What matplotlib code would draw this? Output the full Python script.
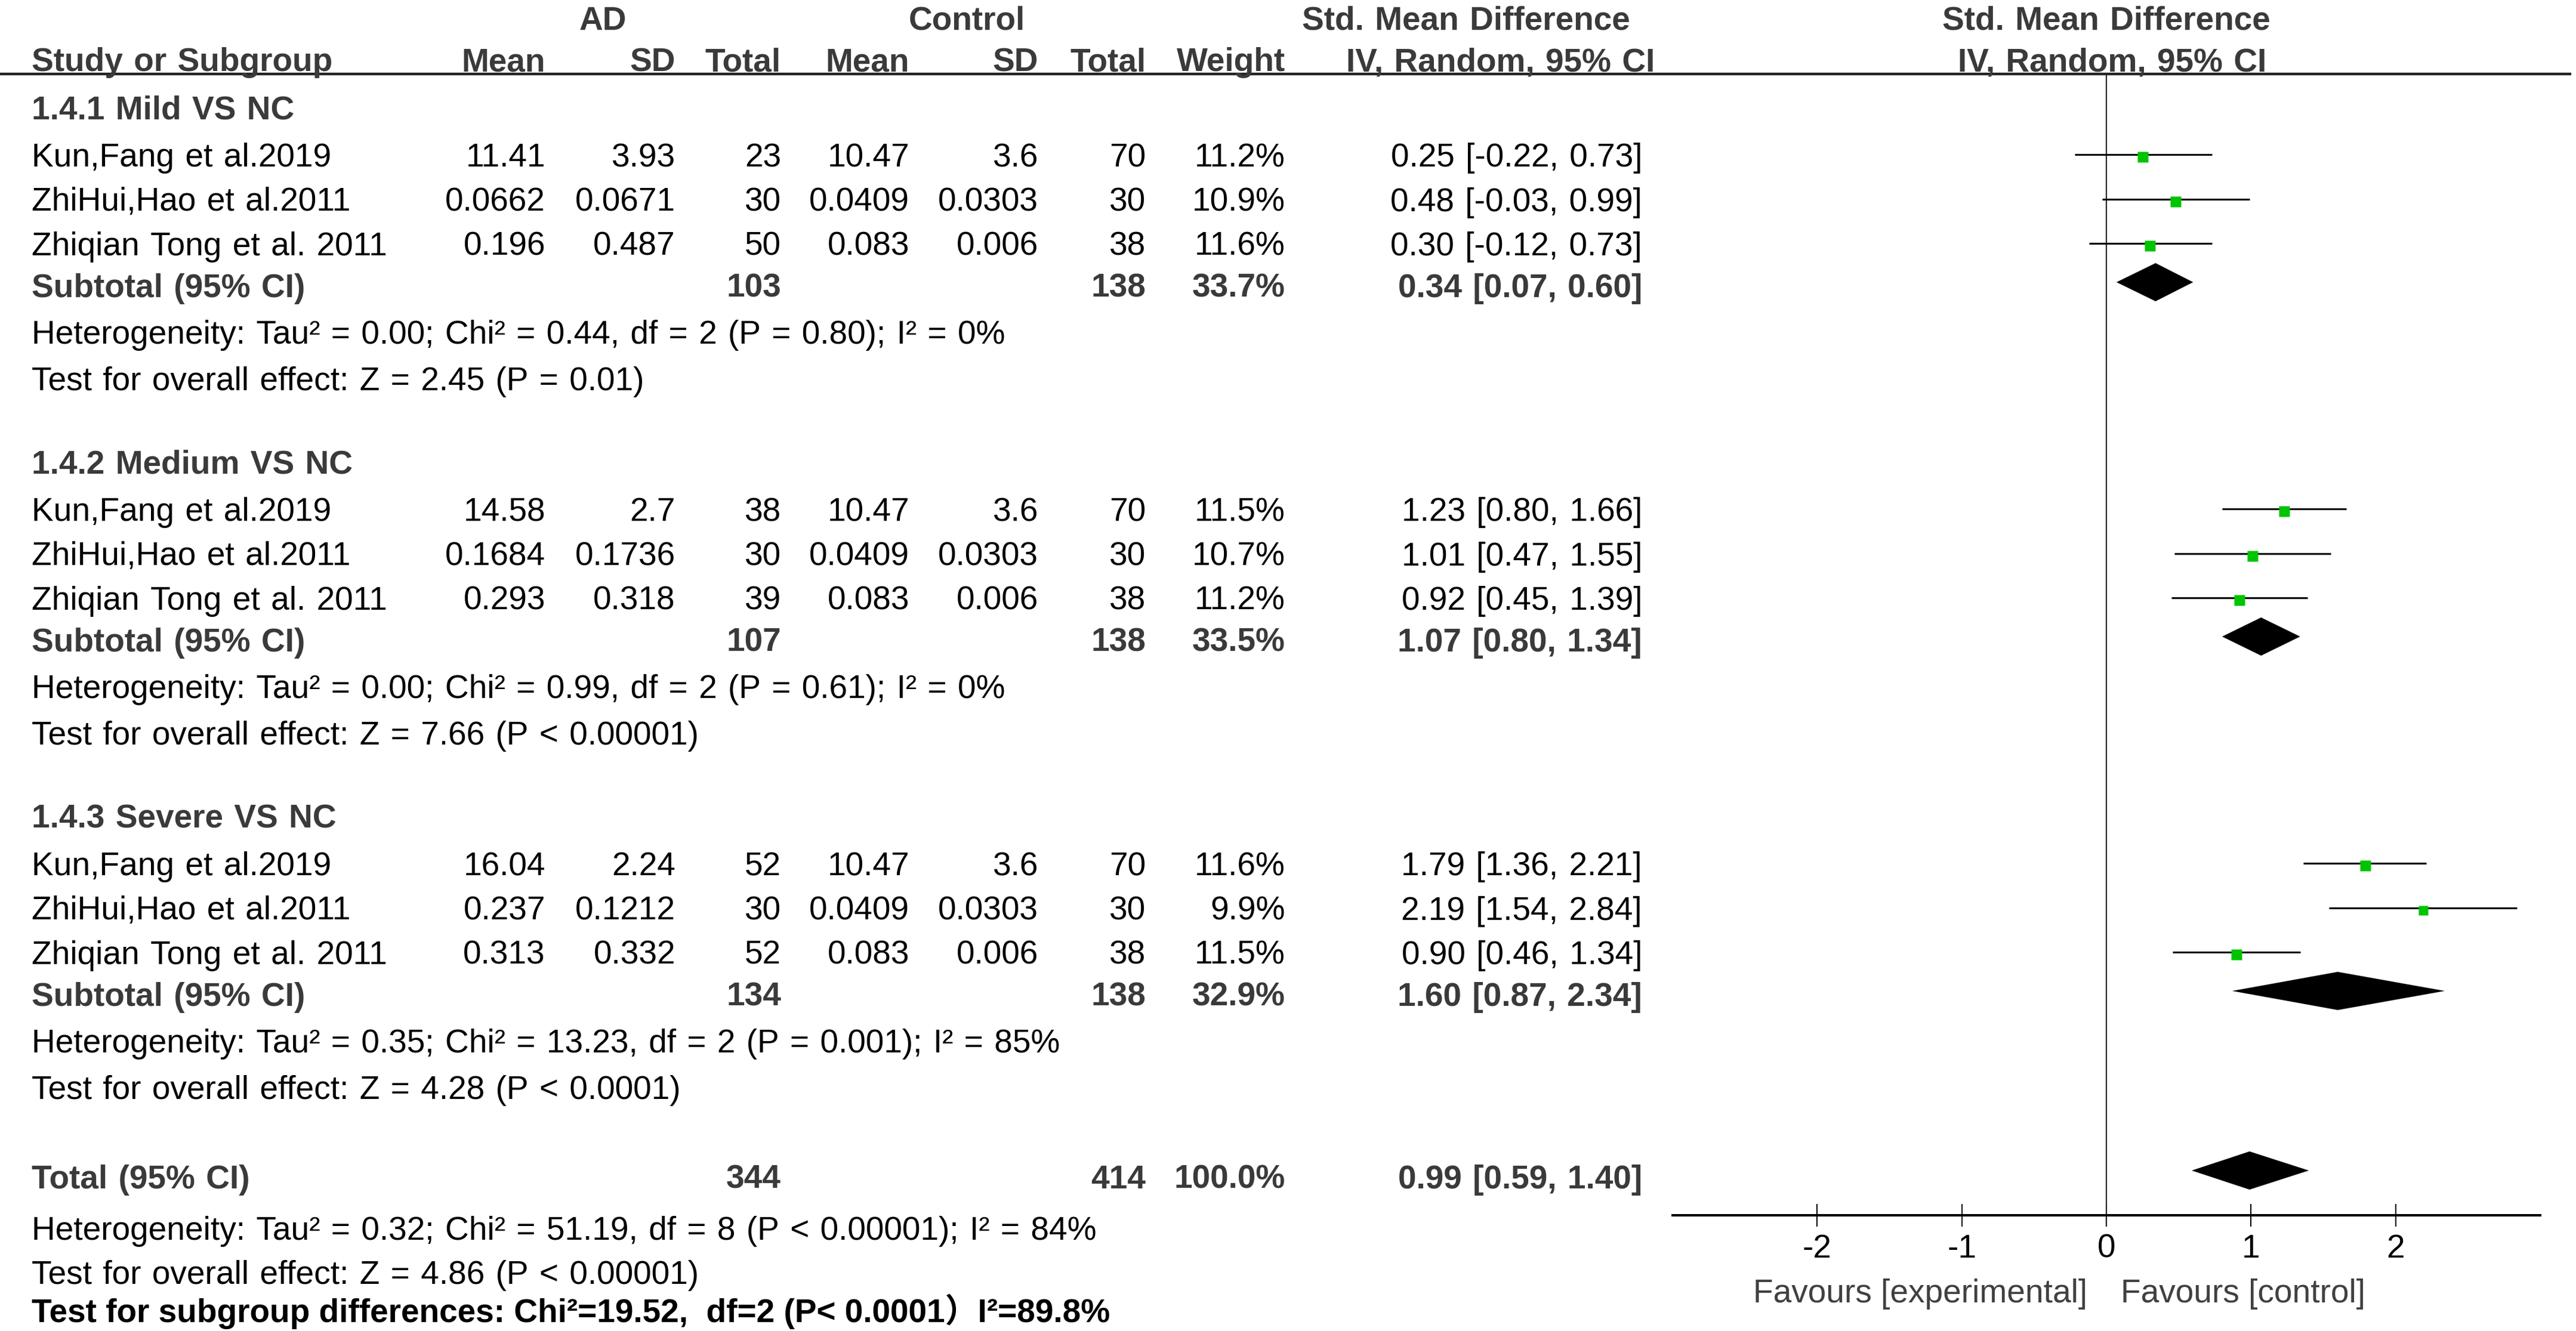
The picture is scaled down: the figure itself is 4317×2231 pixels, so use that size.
import numpy as np
import matplotlib
matplotlib.use("Agg")
import matplotlib.pyplot as plt

plt.rcParams['font.family'] = ['Liberation Sans', 'Noto Sans CJK SC']
plt.rcParams['axes.unicode_minus'] = False

# data
groups = ["1.4.1 Mild VS NC", "1.4.2 Medium VS NC", "1.4.3 Severe VS NC"]
studies = ["Kun,Fang et al.2019", "ZhiHui,Hao et al.2011", "Zhiqian Tong et al. 2011"]

ad_mean = [[11.41, 0.0662, 0.196], [14.58, 0.1684, 0.293], [16.04, 0.237, 0.313]]
ad_sd = [[3.93, 0.0671, 0.487], [2.7, 0.1736, 0.318], [2.24, 0.1212, 0.332]]
ad_n = [[23, 30, 50], [38, 30, 39], [52, 30, 52]]
ctl_mean = [[10.47, 0.0409, 0.083], [10.47, 0.0409, 0.083], [10.47, 0.0409, 0.083]]
ctl_sd = [[3.6, 0.0303, 0.006], [3.6, 0.0303, 0.006], [3.6, 0.0303, 0.006]]
ctl_n = [[70, 30, 38], [70, 30, 38], [70, 30, 38]]
weight = [[11.2, 10.9, 11.6], [11.5, 10.7, 11.2], [11.6, 9.9, 11.5]]
smd = [[0.25, 0.48, 0.30], [1.23, 1.01, 0.92], [1.79, 2.19, 0.90]]
smd_lo = [[-0.22, -0.03, -0.12], [0.80, 0.47, 0.45], [1.36, 1.54, 0.46]]
smd_hi = [[0.73, 0.99, 0.73], [1.66, 1.55, 1.39], [2.21, 2.84, 1.34]]

sub_ad_n = [103, 107, 134]
sub_ctl_n = [138, 138, 138]
sub_weight = [33.7, 33.5, 32.9]
sub_smd = [0.34, 1.07, 1.60]
sub_lo = [0.07, 0.80, 0.87]
sub_hi = [0.60, 1.34, 2.34]
sub_het = ["Heterogeneity: Tau² = 0.00; Chi² = 0.44, df = 2 (P = 0.80); I² = 0%",
           "Heterogeneity: Tau² = 0.00; Chi² = 0.99, df = 2 (P = 0.61); I² = 0%",
           "Heterogeneity: Tau² = 0.35; Chi² = 13.23, df = 2 (P = 0.001); I² = 85%"]
sub_test = ["Test for overall effect: Z = 2.45 (P = 0.01)",
            "Test for overall effect: Z = 7.66 (P < 0.00001)",
            "Test for overall effect: Z = 4.28 (P < 0.0001)"]

tot_ad_n = 344
tot_ctl_n = 414
tot_weight = 100.0
tot_smd, tot_lo, tot_hi = 0.99, 0.59, 1.40
tot_het = "Heterogeneity: Tau² = 0.32; Chi² = 51.19, df = 8 (P < 0.00001); I² = 84%"
tot_test = "Test for overall effect: Z = 4.86 (P < 0.00001)"
subgroup_test = "Test for subgroup differences: Chi²=19.52,  df=2 (P< 0.0001）I²=89.8%"

ticks = [-2, -1, 0, 1, 2]
favours = ["Favours [experimental]", "Favours [control]"]

# figure in pixel units
W, H = 4317, 2231
fig = plt.figure(figsize=(W / 100, H / 100), dpi=100)
ax = fig.add_axes([0, 0, 1, 1])
ax.set_xlim(0, W)
ax.set_ylim(H, 0)
ax.axis('off')

FS = 39.6          # ~55 px font
GREY = '#3a3a3a'   # bold text colour
cols = [914, 1132, 1309, 1524, 1740, 1920, 2154]  # right edges of number columns
ci_x = 2752


def put(x, yc, s, ha='left', bold=False, color=None, **kw):
    # yc = visual centre of the capitals, baseline sits 20 px lower
    if color is None:
        color = GREY if bold else 'black'
    s = s.replace(' ', '\u2004')  # the original uses slightly wider word spaces
    ax.text(x, yc + 20, s, ha=ha, va='baseline', fontsize=FS,
            fontweight='bold' if bold else 'normal', color=color, **kw)


def ci_str(m, lo, hi):
    return f"{m:.2f} [{lo:.2f}, {hi:.2f}]"


# header
put(1010, 30, "AD", ha='center', bold=True)
put(1620, 30, "Control", ha='center', bold=True)
put(2457, 30, "Std. Mean Difference", ha='center', bold=True)
put(3530, 30, "Std. Mean Difference", ha='center', bold=True)
put(53, 99, "Study or Subgroup", bold=True)
for x, s in zip(cols, ["Mean", "SD", "Total", "Mean", "SD", "Total", "Weight"]):
    put(x, 99, s, ha='right', bold=True)
put(2515, 99, "IV, Random, 95% CI", ha='center', bold=True)
put(3540, 99, "IV, Random, 95% CI", ha='center', bold=True)
ax.plot([0, 4309], [124, 124], color='#222222', lw=3.2, solid_capstyle='butt')

# forest axes, x in SMD units, y in the same pixel rows
x_left, x_right = 2803, 4257
axf = fig.add_axes([x_left / W, 0, (x_right - x_left) / W, 1])
axf.set_xlim(-3, 3)
axf.set_ylim(H, 0)
axf.patch.set_alpha(0)
for sp in ['top', 'left', 'right']:
    axf.spines[sp].set_visible(False)
axis_y = 2037
axf.spines['bottom'].set_position(('data', axis_y))
axf.spines['bottom'].set_linewidth(2.9)
axf.set_yticks([])
axf.set_xticks(ticks)
axf.set_xticklabels([str(t) for t in ticks])
axf.tick_params(axis='x', direction='inout', length=28, width=1.5, pad=8, labelsize=FS)
axf.plot([0, 0], [124, axis_y], color='#222222', lw=1.5)

block_top = [180 + 594 * i for i in range(3)]
for g in range(3):
    top = block_top[g]
    put(53, top, groups[g], bold=True)
    for k in range(3):
        y = top + 79 + 74.5 * k
        put(53, y, studies[k])
        vals = [format(ad_mean[g][k], 'g'), format(ad_sd[g][k], 'g'), str(ad_n[g][k]),
                format(ctl_mean[g][k], 'g'), format(ctl_sd[g][k], 'g'), str(ctl_n[g][k]),
                f"{weight[g][k]:.1f}%"]
        for x, s in zip(cols, vals):
            put(x, y, s, ha='right')
        put(ci_x, y, ci_str(smd[g][k], smd_lo[g][k], smd_hi[g][k]), ha='right')
        # CI line and weighted square
        axf.plot([smd_lo[g][k], smd_hi[g][k]], [y, y], color='black', lw=2.2, solid_capstyle='butt')
        axf.plot(smd[g][k], y + 4, marker='s', ms=13 * np.sqrt(weight[g][k] / 11.2),
                 color='#00c400', mec='none', ls='none')
    ys = top + 298
    put(53, ys, "Subtotal (95% CI)", bold=True)
    put(cols[2], ys, str(sub_ad_n[g]), ha='right', bold=True)
    put(cols[5], ys, str(sub_ctl_n[g]), ha='right', bold=True)
    put(cols[6], ys, f"{sub_weight[g]:.1f}%", ha='right', bold=True)
    put(ci_x, ys, ci_str(sub_smd[g], sub_lo[g], sub_hi[g]), ha='right', bold=True)
    axf.fill([sub_lo[g], sub_smd[g], sub_hi[g], sub_smd[g]],
             [ys - 5, ys - 37, ys - 5, ys + 27], color='black', lw=0)
    put(53, top + 376, sub_het[g])
    put(53, top + 454, sub_test[g])

# overall
yt = 1972
put(53, yt, "Total (95% CI)", bold=True)
put(cols[2], yt, str(tot_ad_n), ha='right', bold=True)
put(cols[5], yt, str(tot_ctl_n), ha='right', bold=True)
put(cols[6], yt, f"{tot_weight:.1f}%", ha='right', bold=True)
put(ci_x, yt, ci_str(tot_smd, tot_lo, tot_hi), ha='right', bold=True)
axf.fill([tot_lo, tot_smd, tot_hi, tot_smd], [yt - 10, yt - 42, yt - 10, yt + 22], color='black', lw=0)
put(53, 2058, tot_het)
put(53, 2132, tot_test)
ax.text(53, 2196 + 20, subgroup_test, ha='left', va='baseline', fontsize=FS, fontweight='bold',
        color='black', family=['Liberation Sans Narrow', 'Liberation Sans', 'Noto Sans CJK SC'])

# favours labels under the axis
axf.text(-0.13, 2163 + 20, favours[0], ha='right', va='baseline', fontsize=FS, color='#404040')
axf.text(0.10, 2163 + 20, favours[1], ha='left', va='baseline', fontsize=FS, color='#404040')

fig.savefig("out.png", dpi=100)
